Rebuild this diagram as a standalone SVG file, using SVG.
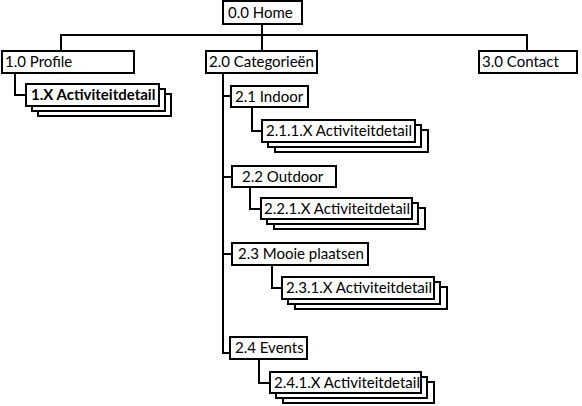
<svg xmlns="http://www.w3.org/2000/svg" width="582" height="406" viewBox="0 0 582 406">
<style>
rect{fill:#fff;stroke:#000;stroke-width:2}
text{font-family:Lato,"Liberation Sans",sans-serif;font-size:15px;fill:#000}
.b{font-weight:bold}
#connectors path{fill:none;stroke:#000;stroke-width:2}
</style>
<rect x="0" y="0" width="582" height="406" style="stroke:none"/>
<g id="connectors">
<path d="M262 24V35M61 51V35H527V51M262 35V51"/>
<path d="M15 73V95H26"/>
<path d="M223 73V353H230M223 96H231M223 177H232M223 254H232"/>
<path d="M252 107V131H262"/>
<path d="M250 187V209H261"/>
<path d="M272 265V288H282"/>
<path d="M259 359V383H270"/>
</g>
<g id="home"><rect x="223" y="1" width="79" height="23"/><text x="228" y="18">0.0 Home</text></g>
<g id="profile"><rect x="2" y="51" width="132" height="22"/><text x="5" y="67">1.0 Profile</text></g>
<g id="categorieen"><rect x="206" y="51" width="111" height="22"/><text x="209" y="67">2.0 Categorieën</text></g>
<g id="contact"><rect x="479" y="51" width="98" height="22"/><text x="482" y="67">3.0 Contact</text></g>
<g id="profile-detail">
<rect x="38" y="94" width="133" height="22"/><rect x="32" y="89" width="133" height="22"/><rect x="26" y="84" width="133" height="22"/>
<text class="b" x="31" y="100">1.X Activiteitdetail</text></g>
<g id="indoor"><rect x="231" y="86" width="77" height="21"/><text x="235" y="102">2.1 Indoor</text></g>
<g id="indoor-detail">
<rect x="275" y="130" width="153" height="22"/><rect x="268" y="125" width="153" height="22"/><rect x="262" y="120" width="153" height="22"/>
<text x="266" y="136">2.1.1.X Activiteitdetail</text></g>
<g id="outdoor"><rect x="232" y="166" width="104" height="21"/><text x="242" y="182">2.2 Outdoor</text></g>
<g id="outdoor-detail">
<rect x="274" y="208" width="151" height="21"/><rect x="267" y="203" width="151" height="21"/><rect x="261" y="198" width="151" height="21"/>
<text x="264" y="214">2.2.1.X Activiteitdetail</text></g>
<g id="mooie"><rect x="232" y="243" width="136" height="22"/><text x="238" y="259">2.3 Mooie plaatsen</text></g>
<g id="mooie-detail">
<rect x="295" y="287" width="152" height="22"/><rect x="288" y="282" width="152" height="22"/><rect x="282" y="277" width="152" height="22"/>
<text x="286" y="293">2.3.1.X Activiteitdetail</text></g>
<g id="events"><rect x="230" y="337" width="77" height="22"/><text x="235" y="353">2.4 Events</text></g>
<g id="events-detail">
<rect x="283" y="382" width="151" height="21"/><rect x="276" y="377" width="151" height="21"/><rect x="270" y="372" width="151" height="21"/>
<text x="274" y="388">2.4.1.X Activiteitdetail</text></g>
</svg>
